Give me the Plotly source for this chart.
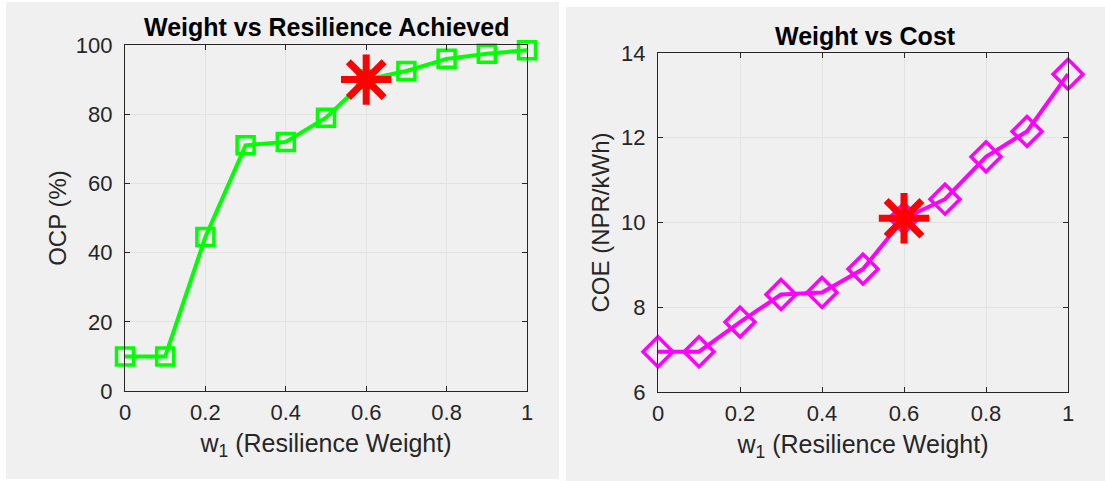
import plotly.graph_objects as go

w1 = [0, 0.1, 0.2, 0.3, 0.4, 0.5, 0.6, 0.7, 0.8, 0.9, 1.0]
ocp = [10, 10, 44.5, 71, 72, 79, 90, 92.5, 96, 97.5, 98.5]
coe = [6.95, 6.95, 7.65, 8.3, 8.35, 8.9, 10.1, 10.55, 11.55, 12.15, 13.5]
sel_w = [0.6]
sel_ocp = [90]
sel_coe = [10.1]
x_ticks = [0, 0.2, 0.4, 0.6, 0.8, 1]
x_tick_labels = ["0", "0.2", "0.4", "0.6", "0.8", "1"]
ocp_ticks = [0, 20, 40, 60, 80, 100]
coe_ticks = [6, 8, 10, 12, 14]

W, H = 1105, 481
FONT = "Liberation Sans, Arial, sans-serif"
TXT = "#262626"

fig = go.Figure()

# left: OCP
fig.add_trace(go.Scatter(
    x=w1, y=ocp, mode="lines+markers", xaxis="x", yaxis="y",
    line=dict(color="#00ff00", width=4),
    marker=dict(symbol="square-open", size=17, color="#00ff00", line=dict(width=3.5, color="#00ff00")),
    showlegend=False, cliponaxis=False))
fig.add_trace(go.Scatter(
    x=sel_w, y=sel_ocp, mode="markers", xaxis="x", yaxis="y",
    marker=dict(symbol="asterisk-open", size=42, color="#ff0000", line=dict(width=7, color="#ff0000")),
    showlegend=False, cliponaxis=False))

# right: COE
fig.add_trace(go.Scatter(
    x=w1, y=coe, mode="lines+markers", xaxis="x2", yaxis="y2",
    line=dict(color="#ff00ff", width=4),
    marker=dict(symbol="diamond-open", size=23, color="#ff00ff", line=dict(width=3.5, color="#ff00ff")),
    showlegend=False, cliponaxis=False))
fig.add_trace(go.Scatter(
    x=sel_w, y=sel_coe, mode="markers", xaxis="x2", yaxis="y2",
    marker=dict(symbol="asterisk-open", size=42, color="#ff0000", line=dict(width=7, color="#ff0000")),
    showlegend=False, cliponaxis=False))

def px_x(p):
    return p / W

def px_y(p):
    return 1 - p / H

ax_common = dict(
    showline=True, linecolor=TXT, linewidth=1.2, mirror="ticks",
    ticks="inside", ticklen=5, tickcolor=TXT, automargin=False,
    showgrid=True, gridcolor="#e3e3e3", gridwidth=1,
    zeroline=False, tickfont=dict(family=FONT, size=22, color=TXT),
)
XLBL = dict(family=FONT, size=25, color=TXT)
YLBL = dict(family=FONT, size=24, color=TXT)

fig.update_layout(
    width=W, height=H,
    margin=dict(l=0, r=0, t=0, b=0),
    paper_bgcolor="white", plot_bgcolor="white",
    xaxis=dict(domain=[px_x(125), px_x(527)], range=[0, 1], tickvals=x_ticks, ticktext=x_tick_labels,
               anchor="y", ticklabelstandoff=1,
               title=dict(text="w<sub>1</sub> (Resilience Weight)", font=XLBL, standoff=10),
               **ax_common),
    yaxis=dict(domain=[px_y(391), px_y(45)], range=[0, 100], tickvals=ocp_ticks, anchor="x",
               ticklabelstandoff=7,
               title=dict(text="OCP (%)", font=YLBL, standoff=2),
               **ax_common),
    xaxis2=dict(domain=[px_x(658), px_x(1068)], range=[0, 1], tickvals=x_ticks, ticktext=x_tick_labels,
                anchor="y2", ticklabelstandoff=1,
                title=dict(text="w<sub>1</sub> (Resilience Weight)", font=XLBL, standoff=10),
                **ax_common),
    yaxis2=dict(domain=[px_y(392), px_y(53)], range=[6, 14], tickvals=coe_ticks, anchor="x2",
                ticklabelstandoff=7,
                title=dict(text="COE (NPR/kWh)", font=YLBL, standoff=4),
                **ax_common),
    shapes=[
        dict(type="rect", xref="paper", yref="paper", x0=px_x(6), x1=px_x(559), y0=px_y(479), y1=px_y(2),
             fillcolor="#f0f0f0", line=dict(width=0), layer="below"),
        dict(type="rect", xref="paper", yref="paper", x0=px_x(566), x1=px_x(1105), y0=px_y(481), y1=px_y(7),
             fillcolor="#f0f0f0", line=dict(width=0), layer="below"),
    ],
    annotations=[
        dict(text="<b>Weight vs Resilience Achieved</b>", xref="paper", yref="paper",
             x=px_x(326), y=px_y(27), xanchor="center", yanchor="middle", showarrow=False,
             font=dict(family=FONT, size=25, color="black")),
        dict(text="<b>Weight vs Cost</b>", xref="paper", yref="paper",
             x=px_x(865), y=px_y(36), xanchor="center", yanchor="middle", showarrow=False,
             font=dict(family=FONT, size=25, color="black")),
    ],
)

fig.write_html(
    "out.html",
    config={"displayModeBar": False},
    post_script="document.body.style.margin='0';document.body.style.padding='0';document.body.style.overflow='hidden';",
)
